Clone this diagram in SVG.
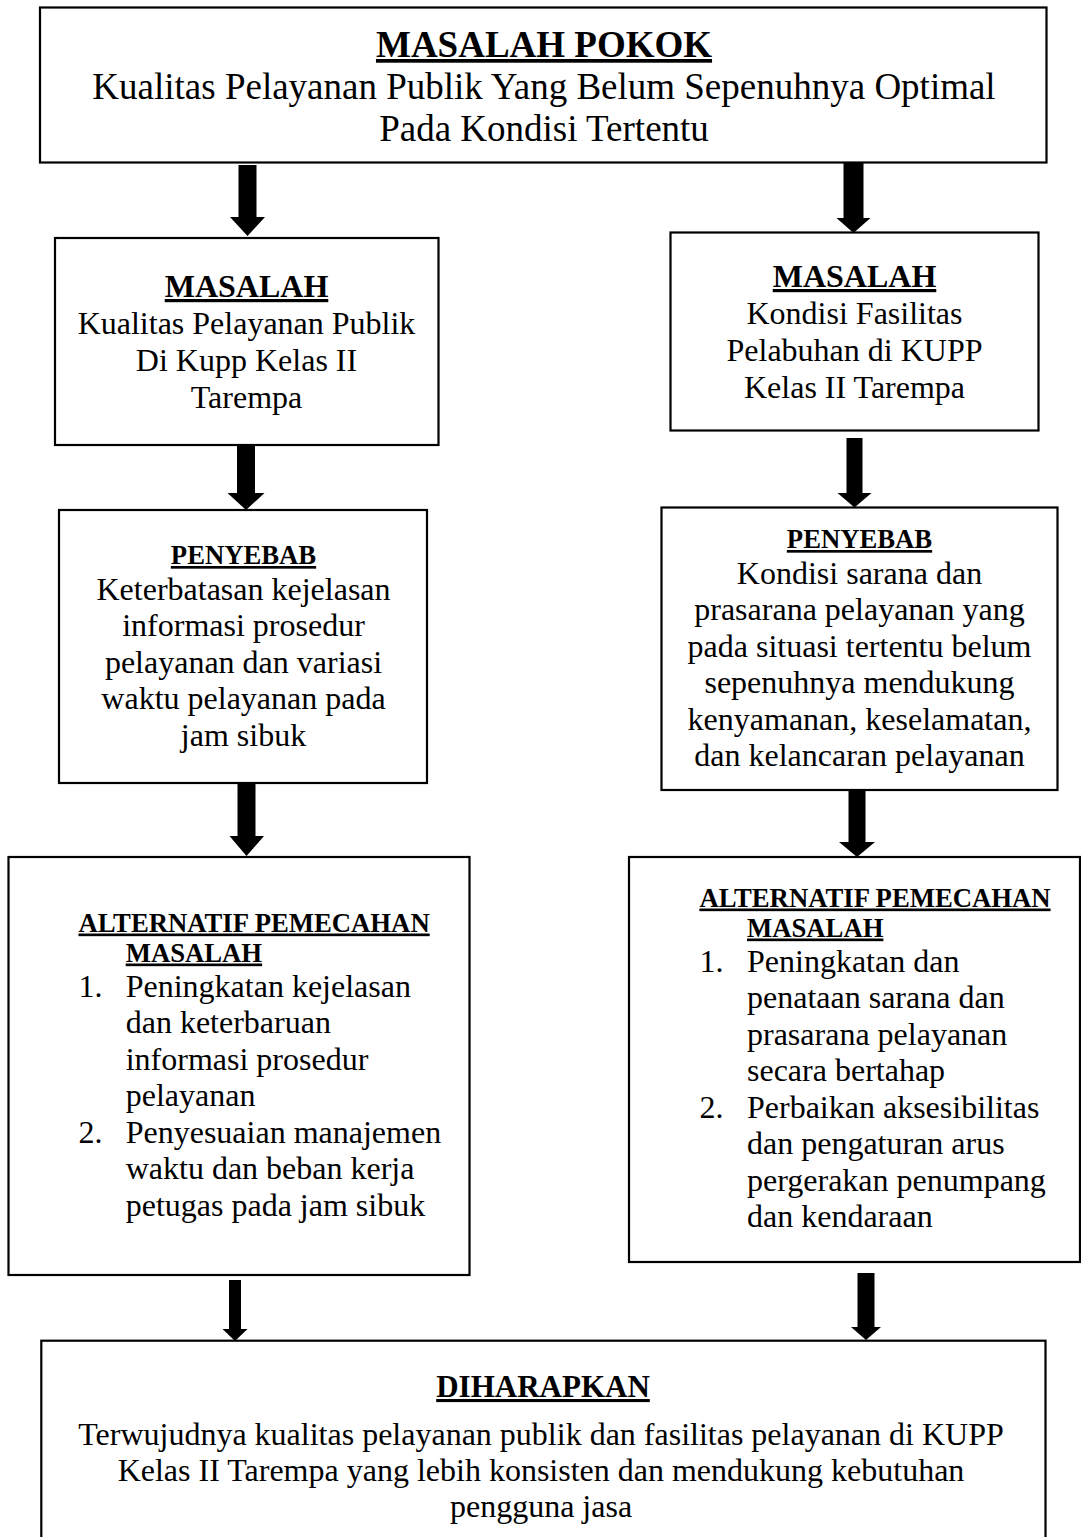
<svg xmlns="http://www.w3.org/2000/svg" width="1081" height="1537" viewBox="0 0 1081 1537">
<style>
.box{fill:#fff;stroke:#000;stroke-width:2.2}
.arr{fill:#000;stroke:none}
text{font-family:"Liberation Serif","Times New Roman",serif;fill:#000}
.c{text-anchor:middle}
.t37{font-size:37px}
.b37{font-size:37px;font-weight:bold;text-decoration:underline}
.t32{font-size:32px}
.b32{font-size:32px;font-weight:bold;text-decoration:underline}
.b31{font-size:31px;font-weight:bold;text-decoration:underline}
.b27{font-size:26.7px;font-weight:bold;text-decoration:underline}
</style>
<rect width="1081" height="1537" fill="#fff"/>
<g id="connectors">
<polygon class="arr" points="238.5,165 256.5,165 256.5,217 265,217 247.5,236 230,217 238.5,217"/>
<polygon class="arr" points="843.5,163 863.5,163 863.5,218 870.5,218 853.5,233 836.5,218 843.5,218"/>
<polygon class="arr" points="237,446 255,446 255,493 264.5,493 246,510 227.5,493 237,493"/>
<polygon class="arr" points="846.5,438 862.5,438 862.5,493 871.5,493 854.5,507.5 837.5,493 846.5,493"/>
<polygon class="arr" points="237.5,784 255.5,784 255.5,836 264,836 246.5,856 229.5,836 237.5,836"/>
<polygon class="arr" points="848.5,791 865.5,791 865.5,842 875,842 857,857 839,842 848.5,842"/>
<polygon class="arr" points="229,1280 241,1280 241,1329 247.5,1329 235,1341 222.5,1329 229,1329"/>
<polygon class="arr" points="857.5,1273 874.5,1273 874.5,1327 881,1327 866,1340 851,1327 857.5,1327"/>
</g>
<g id="masalah-pokok">
<rect class="box" x="40" y="7.5" width="1006.5" height="155"/>
<text class="b37 c" x="544" y="57">MASALAH POKOK</text>
<text class="t37 c" x="544" y="99">Kualitas Pelayanan Publik Yang Belum Sepenuhnya Optimal</text>
<text class="t37 c" x="544" y="141">Pada Kondisi Tertentu</text>
</g>
<g id="masalah-kiri">
<rect class="box" x="55" y="238" width="383.5" height="207"/>
<text class="b32 c" x="246.5" y="297">MASALAH</text>
<text class="t32 c" x="246.5" y="333.5">Kualitas Pelayanan Publik</text>
<text class="t32 c" x="246.5" y="370.5">Di Kupp Kelas II</text>
<text class="t32 c" x="246.5" y="407.5">Tarempa</text>
</g>
<g id="masalah-kanan">
<rect class="box" x="670.5" y="232.5" width="368" height="198"/>
<text class="b32 c" x="854.5" y="287">MASALAH</text>
<text class="t32 c" x="854.5" y="323.5">Kondisi Fasilitas</text>
<text class="t32 c" x="854.5" y="361">Pelabuhan di KUPP</text>
<text class="t32 c" x="854.5" y="398">Kelas II Tarempa</text>
</g>
<g id="penyebab-kiri">
<rect class="box" x="59" y="510" width="368" height="273"/>
<text class="b27 c" x="243.5" y="564">PENYEBAB</text>
<text class="t32 c" x="243.5" y="599.5">Keterbatasan kejelasan</text>
<text class="t32 c" x="243.5" y="636">informasi prosedur</text>
<text class="t32 c" x="243.5" y="672.5">pelayanan dan variasi</text>
<text class="t32 c" x="243.5" y="709">waktu pelayanan pada</text>
<text class="t32 c" x="243.5" y="745.5">jam sibuk</text>
</g>
<g id="penyebab-kanan">
<rect class="box" x="661.5" y="507.5" width="396" height="282.5"/>
<text class="b27 c" x="859.5" y="548">PENYEBAB</text>
<text class="t32 c" x="859.5" y="583.5">Kondisi sarana dan</text>
<text class="t32 c" x="859.5" y="620">prasarana pelayanan yang</text>
<text class="t32 c" x="859.5" y="656.5">pada situasi tertentu belum</text>
<text class="t32 c" x="859.5" y="693">sepenuhnya mendukung</text>
<text class="t32 c" x="859.5" y="729.5">kenyamanan, keselamatan,</text>
<text class="t32 c" x="859.5" y="766">dan kelancaran pelayanan</text>
</g>
<g id="alternatif-kiri">
<rect class="box" x="8.5" y="857" width="461" height="418"/>
<text class="b27" x="78.5" y="931.5">ALTERNATIF PEMECAHAN</text>
<text class="b27" x="125.7" y="961.5">MASALAH</text>
<text class="t32" x="78.5" y="996.5">1.</text>
<text class="t32" x="125.7" y="996.5">Peningkatan kejelasan</text>
<text class="t32" x="125.7" y="1033">dan keterbaruan</text>
<text class="t32" x="125.7" y="1069.5">informasi prosedur</text>
<text class="t32" x="125.7" y="1106">pelayanan</text>
<text class="t32" x="78.5" y="1142.5">2.</text>
<text class="t32" x="125.7" y="1142.5">Penyesuaian manajemen</text>
<text class="t32" x="125.7" y="1179">waktu dan beban kerja</text>
<text class="t32" x="125.7" y="1215.5">petugas pada jam sibuk</text>
</g>
<g id="alternatif-kanan">
<rect class="box" x="629" y="857" width="451" height="405"/>
<text class="b27" x="699.4" y="906.5">ALTERNATIF PEMECAHAN</text>
<text class="b27" x="747" y="936.5">MASALAH</text>
<text class="t32" x="699.4" y="971.5">1.</text>
<text class="t32" x="747" y="971.5">Peningkatan dan</text>
<text class="t32" x="747" y="1008">penataan sarana dan</text>
<text class="t32" x="747" y="1044.5">prasarana pelayanan</text>
<text class="t32" x="747" y="1081">secara bertahap</text>
<text class="t32" x="699.4" y="1117.5">2.</text>
<text class="t32" x="747" y="1117.5">Perbaikan aksesibilitas</text>
<text class="t32" x="747" y="1154">dan pengaturan arus</text>
<text class="t32" x="747" y="1190.5">pergerakan penumpang</text>
<text class="t32" x="747" y="1227">dan kendaraan</text>
</g>
<g id="diharapkan">
<rect class="box" x="41.3" y="1340.7" width="1004.2" height="210"/>
<text class="b31 c" x="543" y="1397">DIHARAPKAN</text>
<text class="t32 c" x="541" y="1445">Terwujudnya kualitas pelayanan publik dan fasilitas pelayanan di KUPP</text>
<text class="t32 c" x="541" y="1481">Kelas II Tarempa yang lebih konsisten dan mendukung kebutuhan</text>
<text class="t32 c" x="541" y="1517">pengguna jasa</text>
</g>
</svg>
